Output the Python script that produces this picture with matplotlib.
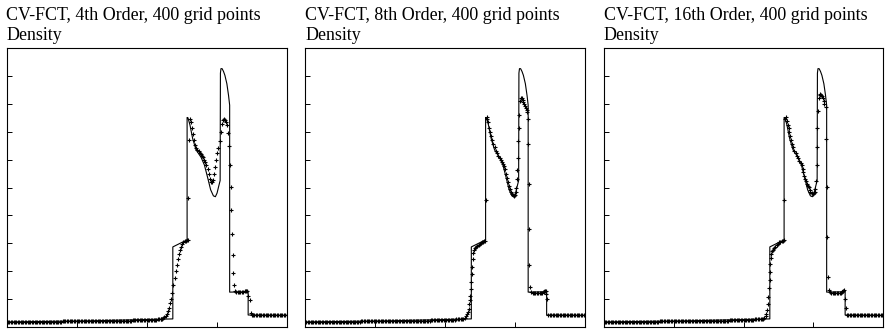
import matplotlib
matplotlib.use('Agg')
from matplotlib import pyplot as plt

plt.rcParams['font.family'] = ['Liberation Serif', 'DejaVu Serif']

# exact density profile (solid curve)
exact_x = [0.0, 0.30, 0.594, 0.594, 0.620, 0.645, 0.645, 0.648, 0.655, 0.665,
           0.677, 0.695, 0.707, 0.719, 0.729, 0.739, 0.746, 0.752, 0.758, 0.763,
           0.764, 0.766, 0.770, 0.775, 0.780, 0.787, 0.793, 0.797, 0.797, 0.850,
           0.856, 0.860, 0.863, 0.863, 1.0]
exact_rho = [0.18, 0.22, 0.29, 2.87, 3.00, 3.12, 7.51, 7.50, 7.25, 6.75,
             6.35, 6.08, 5.80, 5.33, 4.92, 4.70, 4.67, 4.80, 5.05, 5.25,
             9.10, 9.26, 9.26, 9.16, 9.02, 8.72, 8.30, 7.95, 1.25, 1.26,
             1.32, 1.31, 1.28, 0.43, 0.42]

# undisturbed gas on both sides, same in all three runs
left_x = [0.000, 0.005, 0.010, 0.015, 0.020, 0.025, 0.030, 0.035, 0.040, 0.045,
          0.050, 0.055, 0.060, 0.065, 0.070, 0.075, 0.080, 0.085, 0.090, 0.095,
          0.100, 0.105, 0.110, 0.115, 0.120, 0.125, 0.130, 0.135, 0.140, 0.145,
          0.150, 0.155, 0.160, 0.165, 0.170, 0.175, 0.180, 0.185, 0.190, 0.195,
          0.200, 0.205, 0.210, 0.215, 0.220, 0.225, 0.230, 0.235, 0.240, 0.245,
          0.250, 0.255, 0.260, 0.265, 0.270, 0.275, 0.280, 0.285, 0.290, 0.295,
          0.300, 0.305, 0.310, 0.315, 0.320, 0.325, 0.330, 0.335, 0.340, 0.345,
          0.350, 0.355, 0.360, 0.365, 0.370, 0.375, 0.380, 0.385, 0.390, 0.395,
          0.400, 0.405, 0.410, 0.415, 0.420, 0.425, 0.430, 0.435, 0.440, 0.445,
          0.450, 0.455, 0.460, 0.465, 0.470, 0.475, 0.480, 0.485, 0.490, 0.495,
          0.500, 0.505, 0.510, 0.515, 0.520, 0.525, 0.530, 0.535, 0.540, 0.545,
          0.550]
left_rho = [0.18, 0.18, 0.18, 0.18, 0.18, 0.18, 0.18, 0.18, 0.18, 0.18,
            0.18, 0.18, 0.18, 0.18, 0.18, 0.18, 0.18, 0.18, 0.18, 0.18,
            0.19, 0.19, 0.19, 0.19, 0.19, 0.19, 0.19, 0.19, 0.19, 0.19,
            0.19, 0.19, 0.19, 0.19, 0.19, 0.19, 0.19, 0.19, 0.19, 0.19,
            0.20, 0.20, 0.20, 0.20, 0.20, 0.20, 0.20, 0.20, 0.20, 0.20,
            0.20, 0.20, 0.20, 0.20, 0.20, 0.20, 0.20, 0.20, 0.20, 0.20,
            0.21, 0.21, 0.21, 0.21, 0.21, 0.21, 0.21, 0.21, 0.21, 0.21,
            0.21, 0.21, 0.22, 0.22, 0.22, 0.22, 0.22, 0.22, 0.22, 0.22,
            0.23, 0.23, 0.23, 0.23, 0.23, 0.23, 0.23, 0.23, 0.23, 0.23,
            0.24, 0.24, 0.24, 0.24, 0.24, 0.24, 0.24, 0.24, 0.24, 0.24,
            0.25, 0.25, 0.25, 0.25, 0.26, 0.26, 0.26, 0.26, 0.27, 0.27,
            0.27]
right_x = [0.880, 0.885, 0.890, 0.895, 0.900, 0.905, 0.910, 0.915, 0.920, 0.925,
           0.930, 0.935, 0.940, 0.945, 0.950, 0.955, 0.960, 0.965, 0.970, 0.975,
           0.980, 0.985, 0.990, 0.995, 1.000]
right_rho = [0.43, 0.43, 0.43, 0.43, 0.43, 0.43, 0.43, 0.43, 0.43, 0.43,
             0.43, 0.43, 0.43, 0.43, 0.42, 0.42, 0.42, 0.42, 0.42, 0.42,
             0.42, 0.42, 0.42, 0.42, 0.42]

# 4th order points through the blast region
fct4_x = [0.552, 0.556, 0.560, 0.564, 0.568, 0.572, 0.576, 0.580, 0.584, 0.588,
          0.592, 0.596, 0.600, 0.604, 0.608, 0.612, 0.616, 0.620, 0.624, 0.628,
          0.632, 0.636, 0.640, 0.644, 0.647, 0.649, 0.651,
          0.654, 0.658, 0.662, 0.666, 0.670, 0.674, 0.678, 0.682, 0.686, 0.690,
          0.694, 0.698, 0.702, 0.706, 0.710, 0.714, 0.718, 0.722, 0.726, 0.730,
          0.733, 0.737, 0.741, 0.745, 0.749, 0.753, 0.757, 0.761, 0.765, 0.769,
          0.773, 0.777, 0.781, 0.785, 0.789,
          0.792, 0.795, 0.797, 0.800, 0.802, 0.805, 0.808, 0.810, 0.813, 0.817,
          0.821, 0.825, 0.830, 0.835, 0.840, 0.845, 0.850, 0.855, 0.859,
          0.864, 0.868, 0.872, 0.876]
fct4_rho = [0.27, 0.29, 0.31, 0.36, 0.40, 0.46, 0.56, 0.68, 0.85, 1.02,
            1.22, 1.50, 1.76, 2.00, 2.22, 2.42, 2.60, 2.76, 2.88, 2.97,
            3.03, 3.07, 3.09, 3.11, 3.12, 4.62, 6.70,
            7.45, 7.35, 7.15, 6.92, 6.70, 6.52, 6.42, 6.35, 6.30, 6.25,
            6.20, 6.14, 6.08, 6.00, 5.92, 5.82, 5.68, 5.50, 5.32, 5.20,
            5.18, 5.28, 5.50, 5.75, 6.00, 6.24, 6.42, 6.65, 7.00, 7.28,
            7.42, 7.45, 7.42, 7.35, 7.25,
            6.97, 6.50, 5.82, 5.01, 4.18, 3.35, 2.57, 1.94, 1.50, 1.30,
            1.27, 1.26, 1.26, 1.26, 1.27, 1.27, 1.28, 1.30, 1.28,
            1.10, 0.96, 0.49, 0.44]

# 8th order
fct8_x = [0.556, 0.561, 0.566, 0.571, 0.575, 0.578, 0.581, 0.584, 0.587, 0.589,
          0.591, 0.593, 0.594, 0.595, 0.597, 0.599, 0.601, 0.604, 0.608, 0.612,
          0.616, 0.620, 0.624, 0.628, 0.632, 0.636, 0.640, 0.643, 0.646,
          0.649, 0.651, 0.655, 0.658, 0.661, 0.664, 0.668, 0.673, 0.677, 0.681,
          0.685, 0.690, 0.695, 0.700, 0.704, 0.708, 0.711, 0.714, 0.718, 0.722,
          0.726, 0.729, 0.732, 0.736, 0.740, 0.743, 0.746, 0.749, 0.752, 0.755,
          0.757, 0.758, 0.760, 0.762, 0.763, 0.765, 0.768, 0.771, 0.774, 0.777,
          0.780, 0.783, 0.786, 0.789, 0.792, 0.794,
          0.796, 0.798, 0.799, 0.800, 0.801, 0.804, 0.808, 0.813,
          0.818, 0.823, 0.828, 0.833, 0.838, 0.843, 0.848, 0.852, 0.856, 0.859,
          0.862, 0.865, 0.869, 0.874]
fct8_rho = [0.27, 0.28, 0.29, 0.31, 0.38, 0.45, 0.55, 0.66, 0.82, 0.96,
            1.12, 1.35, 1.62, 1.90, 2.15, 2.45, 2.66, 2.76, 2.83, 2.87,
            2.90, 2.94, 2.98, 3.01, 3.04, 3.06, 3.07, 3.08, 4.54,
            7.45, 7.51, 7.33, 7.12, 6.98, 6.86, 6.72, 6.56, 6.44, 6.32,
            6.23, 6.14, 6.06, 5.99, 5.92, 5.85, 5.77, 5.66, 5.49, 5.33,
            5.19, 5.06, 4.95, 4.85, 4.77, 4.73, 4.71, 4.74, 4.83, 5.00,
            5.30, 5.61, 6.06, 6.68, 7.13, 7.60, 8.11, 8.20, 8.19, 8.15,
            8.08, 8.01, 7.93, 7.85, 7.76, 7.69,
            7.45, 6.56, 5.13, 3.52, 2.21, 1.44, 1.26, 1.22,
            1.21, 1.21, 1.21, 1.21, 1.22, 1.22, 1.23, 1.25, 1.28, 1.30,
            1.20, 1.02, 0.43, 0.43]

# 16th order
fct16_x = [0.556, 0.561, 0.566, 0.570, 0.575, 0.579, 0.582, 0.585, 0.587, 0.589,
           0.591, 0.593, 0.594, 0.595, 0.597, 0.599, 0.602, 0.605, 0.609, 0.613,
           0.618, 0.623, 0.628, 0.632, 0.636, 0.640, 0.644, 0.646,
           0.649, 0.652, 0.656, 0.659, 0.661, 0.664, 0.667, 0.671, 0.674, 0.678,
           0.682, 0.686, 0.690, 0.695, 0.700, 0.704, 0.708, 0.711, 0.714, 0.717,
           0.720, 0.723, 0.726, 0.730, 0.733, 0.736, 0.739, 0.743, 0.748, 0.751,
           0.754, 0.757, 0.760, 0.762, 0.763, 0.764, 0.767, 0.769, 0.772, 0.774,
           0.777, 0.780, 0.783, 0.786, 0.789, 0.793,
           0.795, 0.798, 0.799, 0.801, 0.804, 0.808, 0.813,
           0.818, 0.823, 0.828, 0.833, 0.838, 0.843, 0.848, 0.852, 0.856, 0.860,
           0.864, 0.867, 0.869, 0.874]
fct16_rho = [0.27, 0.28, 0.29, 0.29, 0.31, 0.38, 0.47, 0.61, 0.82, 1.08,
             1.38, 1.68, 1.98, 2.27, 2.48, 2.63, 2.72, 2.77, 2.82, 2.87,
             2.93, 2.99, 3.03, 3.05, 3.07, 3.09, 3.11, 4.54,
             7.45, 7.51, 7.37, 7.24, 7.15, 7.00, 6.86, 6.70, 6.56, 6.44,
             6.32, 6.23, 6.14, 6.05, 5.96, 5.88, 5.79, 5.68, 5.55, 5.43,
             5.31, 5.22, 5.13, 5.06, 5.01, 4.92, 4.83, 4.79, 4.77, 4.79,
             4.83, 4.95, 5.25, 5.79, 6.44, 7.15, 7.75, 8.22, 8.32, 8.35,
             8.33, 8.29, 8.21, 8.11, 8.00, 7.87,
             6.74, 5.01, 3.23, 1.80, 1.32, 1.24, 1.22,
             1.21, 1.21, 1.21, 1.21, 1.22, 1.22, 1.23, 1.25, 1.28, 1.32,
             1.00, 0.67, 0.43, 0.43]

titles = ["CV-FCT, 4th Order, 400 grid points",
          "CV-FCT, 8th Order, 400 grid points",
          "CV-FCT, 16th Order, 400 grid points"]
runs = [(fct4_x, fct4_rho), (fct8_x, fct8_rho), (fct16_x, fct16_rho)]

W, H = 885, 331
lefts = [6.5, 305, 603.5]

fig = plt.figure(figsize=(W / 100, H / 100), dpi=100)

for left, title, (px, prho) in zip(lefts, titles, runs):
    ax = fig.add_axes([left / W, 4 / H, 280 / W, 279 / H])
    ax.plot(exact_x, exact_rho, color='black', lw=0.8)
    xs = left_x + px + right_x
    ys = left_rho + prho + right_rho
    ax.plot(xs, ys, '+', color='black', ms=3.2, mew=0.8)
    ax.set_xlim(0, 1)
    ax.set_ylim(0, 10)
    ax.set_xticks([0.25, 0.5, 0.75])
    ax.set_yticks(range(1, 10))
    ax.tick_params(direction='in', length=3.6, width=0.7,
                   labelbottom=False, labelleft=False)
    for s in ax.spines.values():
        s.set_linewidth(0.8)
    fig.text(left / W, 1 - 20 / H, title, fontsize=12.9, va='baseline')
    fig.text(left / W, 1 - 39.5 / H, "Density", fontsize=12.9, va='baseline')

fig.savefig('out.png', dpi=100)
